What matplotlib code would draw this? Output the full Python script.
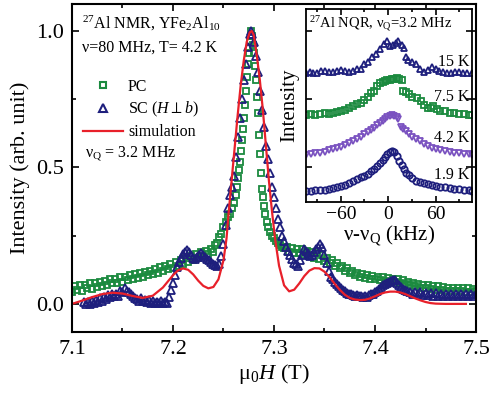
import matplotlib
matplotlib.use("Agg")
import matplotlib.pyplot as plt
from matplotlib.lines import Line2D
from matplotlib.ticker import MultipleLocator

plt.rcParams["font.family"] = ["Liberation Serif", "DejaVu Serif"]
plt.rcParams["mathtext.fontset"] = "custom"
plt.rcParams["mathtext.rm"] = "Liberation Serif"
plt.rcParams["mathtext.it"] = "Liberation Serif:italic"

GREEN = "#1b8a3f"
NAVY = "#1e1f7d"
RED = "#e8202a"
PURPLE = "#7a52c0"

# ---- main panel: 27Al NMR field sweep ----
# polycrystal (PC)
field_pc = [
    7.1000, 7.1025, 7.1050, 7.1075, 7.1100, 7.1125, 7.1150, 7.1175, 7.1200, 7.1225,
    7.1250, 7.1275, 7.1300, 7.1325, 7.1350, 7.1375, 7.1400, 7.1425, 7.1450, 7.1475,
    7.1500, 7.1525, 7.1550, 7.1575, 7.1600, 7.1625, 7.1650, 7.1675, 7.1700, 7.1725,
    7.1750, 7.1775, 7.1800, 7.1825, 7.1850, 7.1875, 7.1900, 7.1925, 7.1950, 7.1975,
    7.2000, 7.2025, 7.2050, 7.2075, 7.2100, 7.2125, 7.2150, 7.2175, 7.2200, 7.2225,
    7.2250, 7.2275, 7.2300, 7.2325, 7.2350, 7.2375, 7.2400,
    7.2420, 7.2440, 7.2460, 7.2480, 7.2500, 7.2520, 7.2540, 7.2560, 7.2580, 7.2600,
    7.2620, 7.2630, 7.2640, 7.2650, 7.2660, 7.2670, 7.2680, 7.2690, 7.2700, 7.2710,
    7.2720, 7.2730, 7.2740, 7.2750, 7.2760, 7.2770, 7.2780, 7.2790, 7.2800, 7.2810,
    7.2820, 7.2830, 7.2840, 7.2850, 7.2860, 7.2870, 7.2880, 7.2890, 7.2900, 7.2915,
    7.2930, 7.2945, 7.2960, 7.2980, 7.3000, 7.3020, 7.3040, 7.3060, 7.3080, 7.3100,
    7.3125, 7.3150, 7.3175, 7.3200, 7.3225, 7.3250, 7.3275, 7.3300, 7.3325, 7.3350,
    7.3375, 7.3400, 7.3425, 7.3450, 7.3475, 7.3500, 7.3525, 7.3550, 7.3575, 7.3600,
    7.3625, 7.3650, 7.3675, 7.3700, 7.3725, 7.3750, 7.3775, 7.3800, 7.3825, 7.3850,
    7.3875, 7.3900, 7.3925, 7.3950, 7.3975, 7.4000, 7.4025, 7.4050, 7.4075, 7.4100,
    7.4125, 7.4150, 7.4175, 7.4200, 7.4225, 7.4250, 7.4275, 7.4300, 7.4325, 7.4350,
    7.4375, 7.4400, 7.4425, 7.4450, 7.4475, 7.4500, 7.4525, 7.4550, 7.4575, 7.4600,
    7.4625, 7.4650, 7.4675, 7.4700, 7.4725, 7.4750, 7.4775, 7.4800, 7.4825, 7.4850,
    7.4875, 7.4900, 7.4925, 7.4950, 7.4975, 7.5000]
int_pc = [
    0.045, 0.065, 0.052, 0.070, 0.048, 0.068, 0.058, 0.075, 0.055, 0.078,
    0.062, 0.080, 0.065, 0.085, 0.070, 0.090, 0.075, 0.092, 0.078, 0.098,
    0.082, 0.100, 0.088, 0.105, 0.090, 0.110, 0.095, 0.115, 0.098, 0.118,
    0.105, 0.122, 0.108, 0.128, 0.115, 0.135, 0.120, 0.140, 0.128, 0.148,
    0.132, 0.152, 0.140, 0.160, 0.148, 0.168, 0.155, 0.175, 0.160, 0.182,
    0.168, 0.190, 0.175, 0.195, 0.182, 0.200, 0.190,
    0.215, 0.225, 0.245, 0.255, 0.280, 0.300, 0.320, 0.330, 0.350, 0.370,
    0.400, 0.430, 0.460, 0.490, 0.520, 0.560, 0.600, 0.640, 0.680, 0.730,
    0.780, 0.830, 0.880, 0.920, 0.960, 1.000, 0.980, 0.950, 0.920, 0.870,
    0.820, 0.760, 0.700, 0.620, 0.550, 0.480, 0.420, 0.390, 0.360, 0.330,
    0.300, 0.280, 0.265, 0.250, 0.240, 0.230, 0.225, 0.215, 0.210, 0.205,
    0.210, 0.192, 0.205, 0.188, 0.202, 0.185, 0.200, 0.180, 0.195, 0.176,
    0.190, 0.170, 0.185, 0.165, 0.178, 0.158, 0.170, 0.150, 0.160, 0.140,
    0.150, 0.132, 0.140, 0.122, 0.130, 0.112, 0.120, 0.105, 0.115, 0.100,
    0.110, 0.096, 0.106, 0.092, 0.102, 0.090, 0.100, 0.086, 0.097, 0.084,
    0.095, 0.082, 0.092, 0.080, 0.090, 0.076, 0.086, 0.072, 0.082, 0.068,
    0.078, 0.064, 0.074, 0.060, 0.070, 0.058, 0.068, 0.055, 0.066, 0.052,
    0.064, 0.050, 0.062, 0.048, 0.060, 0.047, 0.060, 0.046, 0.058, 0.046,
    0.058, 0.045, 0.057, 0.045, 0.056, 0.046]

# single crystal (SC), H perpendicular to b
field_sc = [
    7.112, 7.114, 7.116, 7.118, 7.120, 7.122, 7.124, 7.126, 7.128, 7.130,
    7.132, 7.134, 7.136, 7.138, 7.140, 7.142, 7.144, 7.146, 7.148, 7.150,
    7.152, 7.154, 7.156, 7.158, 7.160, 7.162, 7.164, 7.166, 7.168, 7.170,
    7.172, 7.174, 7.176, 7.178, 7.180, 7.182, 7.184, 7.186, 7.188, 7.190,
    7.192, 7.194, 7.196, 7.198, 7.200, 7.202, 7.204, 7.206, 7.208, 7.210,
    7.212, 7.214, 7.216, 7.218, 7.220, 7.222, 7.224, 7.226, 7.228, 7.230,
    7.232, 7.234, 7.236, 7.238, 7.240, 7.242, 7.244, 7.246, 7.248, 7.250,
    7.252, 7.254, 7.256, 7.258, 7.260, 7.262, 7.264, 7.266, 7.268, 7.270,
    7.272, 7.274, 7.276, 7.277, 7.278, 7.280, 7.282, 7.284, 7.286, 7.288,
    7.290, 7.292, 7.294, 7.296, 7.298, 7.300, 7.302, 7.304, 7.306, 7.308,
    7.310, 7.312, 7.314, 7.316, 7.318, 7.320, 7.322, 7.324, 7.326, 7.328,
    7.330, 7.332, 7.334, 7.336, 7.338, 7.340, 7.342, 7.344, 7.346, 7.348,
    7.350, 7.352, 7.354, 7.356, 7.358, 7.360, 7.362, 7.364, 7.366, 7.368,
    7.370, 7.372, 7.374, 7.376, 7.378, 7.380, 7.382, 7.384, 7.386, 7.388,
    7.390, 7.392, 7.394, 7.396, 7.398, 7.400, 7.402, 7.404, 7.406, 7.408,
    7.410, 7.412, 7.414, 7.416, 7.418, 7.420, 7.422, 7.424, 7.426, 7.428,
    7.430, 7.432, 7.4350, 7.4375, 7.4400, 7.4425, 7.4450, 7.4475, 7.4500, 7.4525,
    7.4550, 7.4575, 7.4600, 7.4625, 7.4650, 7.4675, 7.4700, 7.4725, 7.4750, 7.4775,
    7.4800, 7.4825, 7.4850, 7.4875, 7.4900, 7.4925, 7.4950, 7.4975, 7.5000]
int_sc = [
    0.008, 0.000, 0.006, -0.002, 0.012, 0.004, 0.015, 0.008, 0.020, 0.012,
    0.025, 0.018, 0.032, 0.024, 0.038, 0.028, 0.035, 0.030, 0.048, 0.045,
    0.058, 0.048, 0.042, 0.035, 0.030, 0.020, 0.018, 0.012, 0.022, 0.010,
    0.015, 0.006, 0.014, 0.004, 0.010, 0.002, 0.008, 0.002, 0.009, 0.003,
    0.008, 0.005, 0.025, 0.050, 0.075, 0.105, 0.135, 0.155, 0.170, 0.182,
    0.190, 0.198, 0.192, 0.180, 0.168, 0.165, 0.172, 0.180, 0.186, 0.180,
    0.172, 0.165, 0.160, 0.152, 0.148, 0.142, 0.138, 0.145, 0.175, 0.220,
    0.290, 0.350, 0.400, 0.430, 0.470, 0.540, 0.610, 0.680, 0.750, 0.820,
    0.880, 0.940, 0.990, 1.000, 0.990, 0.960, 0.910, 0.850, 0.780, 0.710,
    0.650, 0.580, 0.530, 0.480, 0.430, 0.390, 0.350, 0.310, 0.280, 0.250,
    0.230, 0.210, 0.195, 0.180, 0.165, 0.150, 0.145, 0.140, 0.160, 0.180,
    0.200, 0.195, 0.185, 0.175, 0.180, 0.190, 0.200, 0.210, 0.220, 0.210,
    0.180, 0.150, 0.120, 0.100, 0.090, 0.080, 0.072, 0.065, 0.058, 0.050,
    0.046, 0.040, 0.038, 0.035, 0.034, 0.030, 0.032, 0.028, 0.030, 0.026,
    0.028, 0.027, 0.032, 0.035, 0.038, 0.042, 0.048, 0.055, 0.062, 0.070,
    0.072, 0.076, 0.080, 0.085, 0.086, 0.088, 0.078, 0.070, 0.062, 0.055,
    0.050, 0.046, 0.045, 0.038, 0.044, 0.036, 0.042, 0.034, 0.040, 0.032,
    0.040, 0.030, 0.040, 0.030, 0.038, 0.029, 0.038, 0.029, 0.038, 0.028,
    0.037, 0.028, 0.037, 0.028, 0.037, 0.028, 0.036, 0.028, 0.036]

# simulated powder pattern
field_sim = [7.100, 7.110, 7.120, 7.130, 7.140, 7.150, 7.160, 7.170, 7.180, 7.190,
             7.200, 7.205, 7.210, 7.215, 7.220, 7.225, 7.230, 7.235, 7.240, 7.245,
             7.250, 7.253, 7.255, 7.258, 7.261, 7.264, 7.267, 7.270, 7.273, 7.276,
             7.278, 7.280, 7.283, 7.286, 7.289, 7.292, 7.295, 7.298, 7.301, 7.305,
             7.310, 7.315, 7.320, 7.325, 7.330, 7.335, 7.340, 7.345, 7.350, 7.355,
             7.360, 7.365, 7.370, 7.375, 7.380, 7.385, 7.390, 7.395, 7.400, 7.405,
             7.410, 7.415, 7.420, 7.425, 7.430, 7.435, 7.440, 7.445, 7.450, 7.455,
             7.460, 7.470, 7.490]
int_sim = [0.000, 0.012, 0.025, 0.036, 0.041, 0.038, 0.029, 0.022, 0.030, 0.060,
           0.105, 0.123, 0.130, 0.125, 0.108, 0.085, 0.066, 0.057, 0.062, 0.090,
           0.160, 0.240, 0.330, 0.450, 0.570, 0.690, 0.800, 0.890, 0.960, 0.995,
           1.000, 0.985, 0.910, 0.820, 0.710, 0.580, 0.450, 0.340, 0.240, 0.140,
           0.068, 0.046, 0.052, 0.075, 0.102, 0.122, 0.131, 0.130, 0.118, 0.098,
           0.074, 0.052, 0.034, 0.022, 0.016, 0.014, 0.015, 0.020, 0.028, 0.036,
           0.042, 0.045, 0.045, 0.042, 0.036, 0.028, 0.020, 0.013, 0.007, 0.003,
           0.001, 0.000, 0.000]

# ---- inset: 27Al NQR spectra at several temperatures ----
nqr_labels = ["1.9 K", "4.2 K", "7.5 K", "15 K"]
nqr_offsets = [0.057, 0.244, 0.451, 0.667]
nqr_scales = [0.207, 0.207, 0.190, 0.166]

nqr_x_19 = [-104, -98, -92, -86, -80, -75, -70, -65, -60, -55, -50, -45, -40, -35, -30,
            -26, -22, -18, -14, -10, -7, -4, -1, 2, 5, 8, 11, 14, 17, 20, 23, 26, 30,
            35, 40, 45, 50, 55, 60, 66, 72, 78, 84, 90, 96, 102, 106]
nqr_y_19 = [0.00, 0.01, 0.02, 0.02, 0.03, 0.05, 0.08, 0.10, 0.12, 0.16, 0.20, 0.25, 0.30,
            0.34, 0.38, 0.43, 0.50, 0.56, 0.63, 0.70, 0.78, 0.85, 0.92, 0.97, 1.00, 0.97,
            0.88, 0.76, 0.64, 0.55, 0.46, 0.40, 0.32, 0.26, 0.22, 0.20, 0.18, 0.15, 0.12,
            0.11, 0.10, 0.08, 0.06, 0.04, 0.03, 0.02, 0.01]

nqr_x_42 = [-104, -98, -92, -86, -80, -75, -70, -65, -60, -55, -50, -45, -40, -35, -30,
            -26, -22, -18, -14, -10, -7, -4, -1, 2, 5, 8, 11, 13, 16, 19, 22, 26, 30,
            35, 40, 45, 50, 55, 60, 66, 72, 78, 84, 90, 96, 102, 106]
nqr_y_42 = [0.00, 0.03, 0.05, 0.05, 0.08, 0.12, 0.15, 0.17, 0.20, 0.25, 0.30, 0.35, 0.40,
            0.46, 0.52, 0.58, 0.62, 0.68, 0.74, 0.80, 0.86, 0.90, 0.95, 0.98, 1.00, 0.97,
            0.94, 0.90, 0.70, 0.65, 0.60, 0.52, 0.46, 0.40, 0.35, 0.28, 0.22, 0.18, 0.15,
            0.12, 0.10, 0.07, 0.05, 0.04, 0.03, 0.02, 0.01]

nqr_x_75 = [-104, -98, -92, -86, -80, -75, -70, -65, -60, -55, -50, -45, -40, -35, -30,
            -26, -22, -18, -14, -10, -7, -4, -1, 2, 5, 8, 11, 14, 17, 19, 22, 26, 30,
            36, 42, 46, 50, 54, 57, 62, 66, 72, 78, 84, 90, 96, 102, 106]
nqr_y_75 = [0.00, 0.02, 0.01, 0.03, 0.05, 0.04, 0.06, 0.08, 0.10, 0.14, 0.18, 0.24, 0.30,
            0.34, 0.40, 0.50, 0.60, 0.66, 0.78, 0.86, 0.90, 0.93, 0.95, 0.96, 0.97, 0.98,
            1.00, 0.97, 0.95, 0.66, 0.62, 0.58, 0.50, 0.46, 0.38, 0.28, 0.18, 0.20, 0.25,
            0.16, 0.12, 0.10, 0.06, 0.05, 0.02, 0.02, 0.00, 0.00]

nqr_x_15 = [-104, -99, -95, -90, -85, -80, -75, -70, -65, -60, -55, -50, -45, -40, -35,
            -30, -25, -20, -15, -10, -5, -2, 2, 6, 10, 13, 17, 20, 22, 25, 30, 35, 40,
            45, 50, 55, 60, 65, 70, 75, 80, 85, 90, 95, 100, 106]
nqr_y_15 = [0.00, 0.05, 0.02, 0.00, 0.06, 0.08, 0.03, 0.03, 0.08, 0.10, 0.06, 0.05, 0.08,
            0.12, 0.15, 0.30, 0.35, 0.50, 0.60, 0.75, 0.92, 1.00, 0.85, 0.90, 0.95, 1.00,
            0.90, 0.80, 0.50, 0.42, 0.35, 0.30, 0.12, 0.05, 0.10, 0.20, 0.12, 0.06, 0.05,
            0.02, 0.02, 0.04, 0.03, 0.02, 0.02, 0.00]

nqr_x = [nqr_x_19, nqr_x_42, nqr_x_75, nqr_x_15]
nqr_y = [nqr_y_19, nqr_y_42, nqr_y_75, nqr_y_15]
nqr_markers = ["o", "v", "s", "^"]
nqr_colors = [NAVY, PURPLE, GREEN, NAVY]
nqr_label_y = [0.14, 0.332, 0.546, 0.727]


def style_axes(ax, width=1.5):
    for sp in ax.spines.values():
        sp.set_linewidth(width)
    ax.tick_params(which="both", direction="in", top=True, right=True, width=1.2)
    ax.tick_params(which="major", length=5)
    ax.tick_params(which="minor", length=3)


def main():
    fig = plt.figure(figsize=(4.92, 3.96), dpi=100)
    ax = fig.add_axes([0.1463, 0.1616, 0.8212, 0.8283])

    ax.plot(field_pc, int_pc, ls="none", marker="s", ms=5, mfc="none",
            mec=GREEN, mew=1.3)
    ax.plot(field_sc, int_sc, ls="none", marker="^", ms=6, mfc="none",
            mec=NAVY, mew=1.3)
    ax.plot(field_sim, int_sim, color=RED, lw=1.6)

    ax.set_xlim(7.1, 7.5)
    ax.set_ylim(-0.103, 1.099)
    ax.xaxis.set_major_locator(MultipleLocator(0.1))
    ax.xaxis.set_minor_locator(MultipleLocator(0.05))
    ax.yaxis.set_major_locator(MultipleLocator(0.5))
    ax.yaxis.set_minor_locator(MultipleLocator(0.25))
    style_axes(ax)
    ax.tick_params(labelsize=16, pad=6)
    ax.set_xlabel("μ$_0$$H$ (T)", fontsize=16, labelpad=2)
    ax.set_ylabel("Intensity (arb. unit)", fontsize=16, labelpad=4)

    ax.text(0.025, 0.942, "$^{27}$Al NMR, YFe$_2$Al$_{10}$", transform=ax.transAxes,
            fontsize=11.5, va="center", ha="left")
    ax.text(0.025, 0.866, "ν=80 MHz, T= 4.2 K", transform=ax.transAxes,
            fontsize=11.5, va="center", ha="left")
    ax.text(0.032, 0.542, "ν$_{\\mathrm{Q}}$ = 3.2 MHz", transform=ax.transAxes,
            fontsize=11.5, va="center", ha="left")

    handles = [
        Line2D([], [], ls="none", marker="s", ms=5, mfc="none", mec=GREEN, mew=1.5),
        Line2D([], [], ls="none", marker="^", ms=6, mfc="none", mec=NAVY, mew=1.5),
        Line2D([], [], color=RED, lw=1.6),
    ]
    labels = ["PC", "SC ($H$$\\perp$$b$)", "simulation"]
    ax.legend(handles, labels, loc="upper left", bbox_to_anchor=(0.028, 0.772),
              frameon=False, fontsize=11.5, borderpad=0, borderaxespad=0,
              handlelength=2.5, handletextpad=0.3, labelspacing=0.32, numpoints=1)

    # inset
    ins = fig.add_axes([0.622, 0.4899, 0.337, 0.4871])
    for xs, ys, off, sc, mk, col in zip(nqr_x, nqr_y, nqr_offsets, nqr_scales,
                                         nqr_markers, nqr_colors):
        ins.plot(xs, [off + sc * v for v in ys], ls="none", marker=mk, ms=4.6,
                 mfc="none", mec=col, mew=1.3)
    for lab, ly in zip(nqr_labels, nqr_label_y):
        ins.text(0.985, ly, lab, transform=ins.transAxes, fontsize=11.5,
                 ha="right", va="center")
    ins.text(0.02, 0.925, "$^{27}$Al NQR, ν$_{\\mathrm{Q}}$=3.2 MHz",
             transform=ins.transAxes, fontsize=10.5, ha="left", va="center")
    ins.set_xlim(-104, 106)
    ins.set_ylim(0, 1)
    ins.xaxis.set_major_locator(MultipleLocator(60))
    ins.xaxis.set_minor_locator(MultipleLocator(30))
    ins.set_yticks([0.181, 0.534, 0.887])
    ins.set_yticklabels([])
    style_axes(ins, width=1.3)
    ins.tick_params(which="major", length=4)
    ins.tick_params(which="minor", length=2)
    ins.tick_params(labelsize=14, pad=3)
    ins.set_xlabel("ν-ν$_{\\mathrm{Q}}$ (kHz)", fontsize=15, labelpad=0)
    ins.set_ylabel("Intensity", fontsize=15, labelpad=2)

    fig.savefig("out.png", dpi=100)


if __name__ == "__main__":
    main()
